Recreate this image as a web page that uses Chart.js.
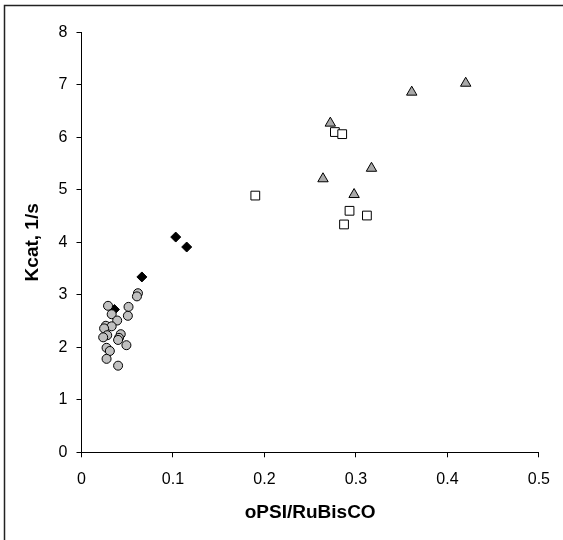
<!DOCTYPE html>
<html>
<head>
<meta charset="utf-8">
<script src="https://cdn.jsdelivr.net/npm/chart.js@4"></script>
<style>
  html, body { margin: 0; padding: 0; background: #fff; }
  #wrap { width: 563px; height: 540px; position: relative; }
</style>
</head>
<body>
<div id="wrap"><canvas id="c" width="563" height="540"></canvas></div>
<script>
// Circles (grey)
const circleX = [0.0617, 0.0606, 0.029, 0.0514, 0.033, 0.0507, 0.039, 0.0266, 0.033, 0.0247, 0.0281, 0.0237, 0.0429, 0.041, 0.040, 0.0491, 0.0274, 0.031, 0.0274, 0.040];
const circleY = [3.03, 2.97, 2.79, 2.77, 2.63, 2.60, 2.51, 2.41, 2.40, 2.36, 2.23, 2.19, 2.25, 2.18, 2.14, 2.04, 1.99, 1.93, 1.78, 1.65];
// Diamonds (black)
const diamondX = [0.103, 0.115, 0.066, 0.036];
const diamondY = [4.10, 3.91, 3.34, 2.72];
// Squares (white)
const squareX = [0.190, 0.277, 0.285, 0.293, 0.312, 0.287];
const squareY = [4.89, 6.10, 6.06, 4.60, 4.51, 4.34];
// Triangles (grey)
const triangleX = [0.272, 0.264, 0.298, 0.317, 0.361, 0.420];
const triangleY = [6.27, 5.21, 4.91, 5.41, 6.86, 7.03];

const xTicks = [0, 0.1, 0.2, 0.3, 0.4, 0.5];
const yTicks = [0, 1, 2, 3, 4, 5, 6, 7, 8];

function pts(xs, ys) { return xs.map((x, i) => ({ x: x, y: ys[i] })); }

const FONT = "'Liberation Sans', Arial, sans-serif";

const framePlugin = {
  id: 'frame',
  beforeDraw(chart) {
    const ctx = chart.ctx;
    ctx.save();
    ctx.fillStyle = '#fff';
    ctx.fillRect(0, 0, chart.width, chart.height);
    ctx.strokeStyle = '#222';
    ctx.lineWidth = 1.5;
    ctx.beginPath();
    ctx.moveTo(4.5, chart.height);
    ctx.lineTo(4.5, 5.5);
    ctx.lineTo(chart.width, 5.5);
    ctx.stroke();
    ctx.restore();
  }
};

new Chart(document.getElementById('c'), {
  type: 'scatter',
  data: {
    datasets: [
      { label: 'circles', data: pts(circleX, circleY), pointStyle: 'circle', pointRadius: 4.5,
        backgroundColor: '#c0c0c0', borderColor: '#000', borderWidth: 1 },
      { label: 'diamonds', data: pts(diamondX, diamondY), pointStyle: 'rectRot', pointRadius: 5,
        backgroundColor: '#000', borderColor: '#000', borderWidth: 1 },
      { label: 'squares', data: pts(squareX, squareY), pointStyle: 'rect', pointRadius: 6.2,
        backgroundColor: '#fff', borderColor: '#000', borderWidth: 1 },
      { label: 'triangles', data: pts(triangleX, triangleY), pointStyle: 'triangle', pointRadius: 6,
        backgroundColor: '#a9a9a9', borderColor: '#000', borderWidth: 1 }
    ]
  },
  options: {
    responsive: false,
    animation: false,
    devicePixelRatio: 1,
    layout: { padding: { left: 0, right: 21.7, top: 32.3, bottom: 0 } },
    plugins: { legend: { display: false }, tooltip: { enabled: false } },
    scales: {
      x: {
        type: 'linear', min: 0, max: 0.5,
        afterBuildTicks(s) { s.ticks = xTicks.map(v => ({ value: v })); },
        afterFit(s) { s.height = 540 - 452.3; },
        grid: { drawOnChartArea: false, drawTicks: true, tickLength: 5, color: '#000', tickColor: '#000' },
        border: { display: true, color: '#000', width: 1 },
        ticks: { color: '#000', font: { family: FONT, size: 16 }, padding: 13, maxRotation: 0,
          callback: v => String(v) },
        title: { display: true, text: 'oPSI/RuBisCO', color: '#000',
          font: { family: FONT, size: 19, weight: 'bold' }, padding: { top: 0, bottom: 16 } }
      },
      y: {
        type: 'linear', min: 0, max: 8,
        afterBuildTicks(s) { s.ticks = yTicks.map(v => ({ value: v })); },
        afterFit(s) { s.width = 81.5; },
        grid: { drawOnChartArea: false, drawTicks: true, tickLength: 5, color: '#000', tickColor: '#000' },
        border: { display: true, color: '#000', width: 1 },
        ticks: { color: '#000', font: { family: FONT, size: 16 }, padding: 9,
          callback: v => String(v) },
        title: { display: true, text: 'Kcat, 1/s', color: '#000',
          font: { family: FONT, size: 19, weight: 'bold' }, padding: { top: 21, bottom: 0 } }
      }
    }
  },
  plugins: [framePlugin]
});
</script>
</body>
</html>
